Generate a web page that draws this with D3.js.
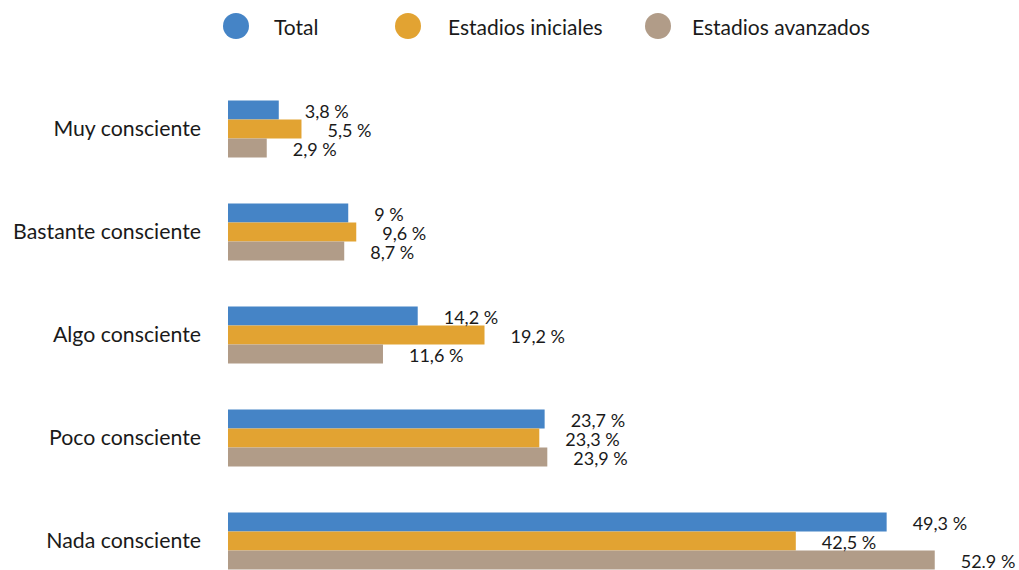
<!DOCTYPE html>
<html>
<head>
<meta charset="utf-8">
<script src="https://cdn.jsdelivr.net/npm/d3@7"></script>
<style>
  html, body { margin: 0; padding: 0; background: #fff; }
  svg { display: block; font-family: Lato, "Open Sans", sans-serif; }
</style>
</head>
<body>
<svg id="chart" width="1019" height="570"></svg>
<script>
// Awareness levels (rows, top to bottom)
const categories = ["Muy consciente", "Bastante consciente", "Algo consciente", "Poco consciente", "Nada consciente"];

// Series
const seriesNames = ["Total", "Estadios iniciales", "Estadios avanzados"];
const seriesColors = ["#4584c6", "#e2a332", "#b19c88"];

// Percentages per series, in category order
const totalValues    = [3.8, 9.0, 14.2, 23.7, 49.3];
const inicialValues  = [5.5, 9.6, 19.2, 23.3, 42.5];
const avanzadoValues = [2.9, 8.7, 11.6, 23.9, 52.9];

// Printed value labels
const totalLabels    = ["3,8 %", "9 %", "14,2 %", "23,7 %", "49,3 %"];
const inicialLabels  = ["5,5 %", "9,6 %", "19,2 %", "23,3 %", "42,5 %"];
const avanzadoLabels = ["2,9 %", "8,7 %", "11,6 %", "23,9 %", "52.9 %"];

const seriesValues = [totalValues, inicialValues, avanzadoValues];
const seriesLabels = [totalLabels, inicialLabels, avanzadoLabels];

const svg = d3.select("#chart");

// Scales
const x = d3.scaleLinear().domain([0, 55]).range([228, 228 + 55 * 13.36]);

const step = 103;
const firstCenter = 129;
const y0 = d3.scaleBand()
  .domain(categories)
  .range([firstCenter - step / 2, firstCenter - step / 2 + step * categories.length])
  .padding(0);

const groupH = 57;
const y1 = d3.scaleBand()
  .domain(seriesNames)
  .range([(step - groupH) / 2, (step + groupH) / 2])
  .padding(0);

// Category axis (labels only)
const yAxis = d3.axisLeft(y0).tickSize(0).tickPadding(27);
const axisG = svg.append("g")
  .attr("transform", `translate(${x(0)},0)`)
  .call(yAxis);
axisG.select(".domain").remove();
axisG.selectAll("text")
  .attr("font-family", "Lato, 'Open Sans', sans-serif")
  .attr("font-size", 21.3)
  .attr("fill", "#1a1a1a")
  .attr("dy", "0.35em");

// Bars and labels
const groups = svg.append("g").selectAll("g")
  .data(categories)
  .join("g")
  .attr("transform", d => `translate(0,${y0(d)})`);

groups.each(function (cat, ci) {
  const g = d3.select(this);
  const rows = seriesNames.map((s, si) => ({
    series: s,
    value: seriesValues[si][ci],
    label: seriesLabels[si][ci],
    color: seriesColors[si]
  }));

  g.selectAll("rect")
    .data(rows)
    .join("rect")
    .attr("x", x(0))
    .attr("y", d => y1(d.series))
    .attr("width", d => x(d.value) - x(0))
    .attr("height", y1.bandwidth())
    .attr("fill", d => d.color);

  g.selectAll("text")
    .data(rows)
    .join("text")
    .attr("x", d => x(d.value) + 26)
    .attr("y", d => y1(d.series) + y1.bandwidth() / 2 + 1)
    .attr("dominant-baseline", "central")
    .attr("font-size", 18)
    .attr("fill", "#1a1a1a")
    .text(d => d.label);
});

// Legend
const legendCx = [236, 408, 658];
const legend = svg.append("g").selectAll("g")
  .data(seriesNames)
  .join("g")
  .attr("transform", (d, i) => `translate(${legendCx[i]},26)`);

legend.append("circle")
  .attr("r", 13)
  .attr("fill", (d, i) => seriesColors[i]);

legend.append("text")
  .attr("x", (d, i) => [38, 40, 34][i])
  .attr("dominant-baseline", "central")
  .attr("font-size", 21)
  .attr("fill", "#1a1a1a")
  .text(d => d);
</script>
</body>
</html>
